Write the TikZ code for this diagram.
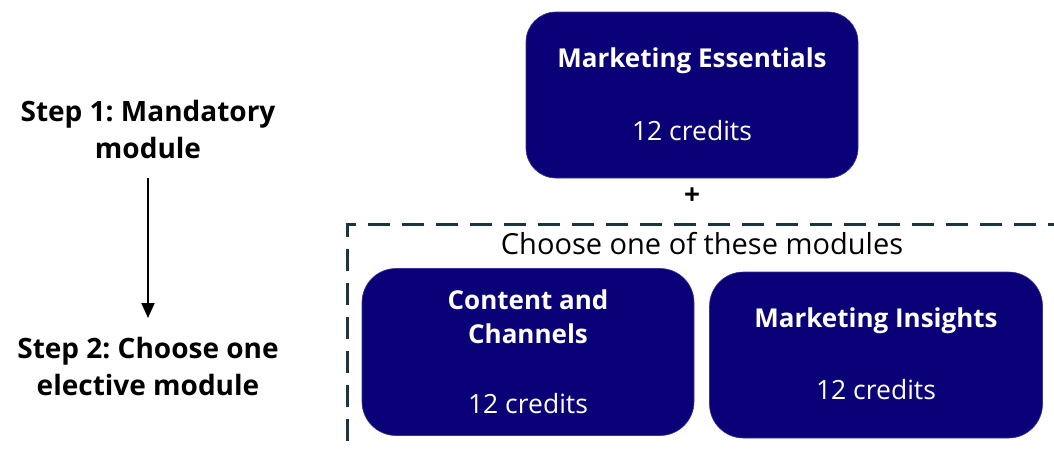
\documentclass[tikz,border=0pt]{standalone}
\usepackage{fontspec}
\setmainfont{Open Sans}
\usetikzlibrary{arrows.meta}
\frenchspacing
\definecolor{navy}{RGB}{10,0,120}
\definecolor{dashc}{RGB}{28,52,64}
\tikzset{
  modbox/.style={draw=navy!80!white, line width=0.6pt, fill=navy, rounded corners=30pt, inner sep=0pt},
  boxtitle/.style={text=white, font=\fontsize{26}{34}\selectfont\bfseries, align=center, inner sep=0pt},
  boxcred/.style={text=white, font=\fontsize{26.5}{30}\selectfont, inner sep=0pt},
  steplabel/.style={font=\fontsize{28}{37}\selectfont\bfseries, align=center, inner sep=0pt},
}
\begin{document}
\begin{tikzpicture}[x=1pt,y=-1pt]
\useasboundingbox (0,0) rectangle (1054,448);
\begin{scope}
\clip (0,0) rectangle (1054,448);
% dashed frame
\coordinate (d1) at (1070,224);
\coordinate (d2) at (347,224);
\coordinate (d3) at (347,460);
\draw[dashc, line width=3pt, dash pattern=on 22pt off 12pt] (d1) -- (d2) -- (d3);
\end{scope}

% top box
\node[modbox, minimum width=332pt, minimum height=166pt] (me) at (692,95) {};
\node[boxtitle] (met) at (692,61) {Marketing Essentials};
\node[boxcred] (mec) at (692,131) {12 credits};

\node[font=\fontsize{28}{30}\selectfont\bfseries, inner sep=0pt] (plus) at (692,196) {+};

\node[font=\fontsize{29}{32}\selectfont, inner sep=0pt] (choose) at (702,244) {Choose one of these modules};

% lower boxes
\node[modbox, rounded corners=34pt, minimum width=332pt, minimum height=167pt] (cc) at (528,352) {};
\node[boxtitle] (cct) at (528,317) {Content and\\Channels};
\node[boxcred] (ccc) at (528,404) {12 credits};

\node[modbox, rounded corners=34pt, minimum width=333pt, minimum height=166pt] (mi) at (876,355) {};
\node[boxtitle] (mit) at (876,321) {Marketing Insights};
\node[boxcred] (mic) at (876,390) {12 credits};

% steps
\node[steplabel] (s1) at (148,129) {Step 1: Mandatory\\module};
\node[steplabel] (s2) at (148,366) {Step 2: Choose one\\elective module};
\coordinate (a1) at (148,178);
\coordinate (a2) at (148,318);
\draw[line width=2pt, -{Triangle[width=13pt,length=15pt]}] (a1) -- (a2);
\end{tikzpicture}
\end{document}
